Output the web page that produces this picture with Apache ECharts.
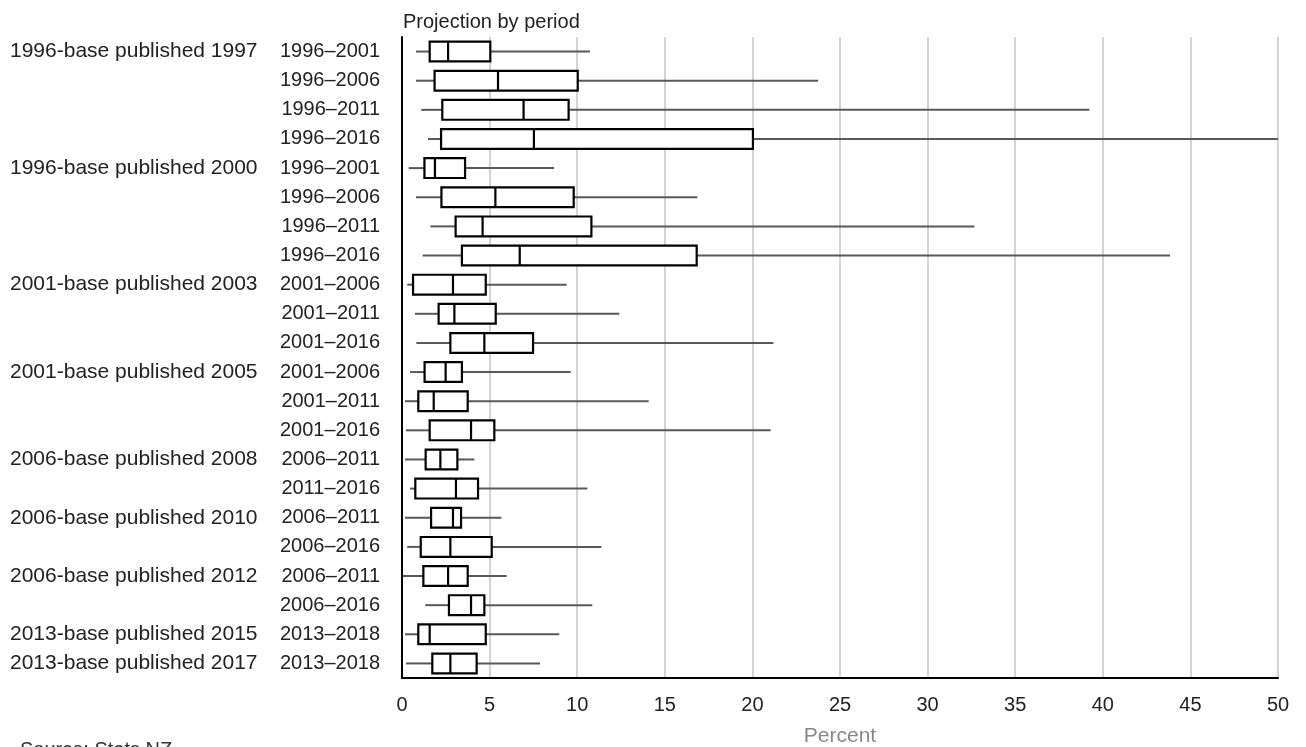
<!DOCTYPE html>
<html>
<head>
<meta charset="utf-8">
<script src="https://cdn.jsdelivr.net/npm/echarts@6/dist/echarts.min.js"></script>
<style>
html,body{margin:0;padding:0;background:#fff;}
#chart{width:1306px;height:747px;}
</style>
</head>
<body>
<div id="chart"></div>
<script>
const groupLabels = [
  '1996-base published 1997','','','',
  '1996-base published 2000','','','',
  '2001-base published 2003','','',
  '2001-base published 2005','','',
  '2006-base published 2008','',
  '2006-base published 2010','',
  '2006-base published 2012','',
  '2013-base published 2015',
  '2013-base published 2017'
];
const periods = [
  '1996–2001','1996–2006','1996–2011','1996–2016',
  '1996–2001','1996–2006','1996–2011','1996–2016',
  '2001–2006','2001–2011','2001–2016',
  '2001–2006','2001–2011','2001–2016',
  '2006–2011','2011–2016',
  '2006–2011','2006–2016',
  '2006–2011','2006–2016',
  '2013–2018',
  '2013–2018'
];
const whiskerLow = [0.80,0.80,1.10,1.48, 0.38,0.80,1.62,1.18, 0.30,0.74,0.82, 0.46,0.17,0.23, 0.17,0.46, 0.17,0.30, 0.04,1.33, 0.17, 0.23];
const quartile1  = [1.58,1.86,2.30,2.23, 1.28,2.25,3.06,3.42, 0.63,2.09,2.76, 1.29,0.93,1.58, 1.35,0.76, 1.66,1.07, 1.22,2.68, 0.93, 1.73];
const medians    = [2.63,5.48,6.94,7.53, 1.88,5.33,4.60,6.72, 2.91,2.99,4.70, 2.49,1.81,3.94, 2.19,3.08, 2.91,2.76, 2.63,3.94, 1.58, 2.76];
const quartile3  = [5.04,10.03,9.51,20.03, 3.60,9.80,10.81,16.82, 4.78,5.35,7.48, 3.42,3.75,5.27, 3.16,4.34, 3.37,5.12, 3.75,4.70, 4.78, 4.26];
const whiskerHigh= [10.73,23.75,39.23,50.0, 8.68,16.86,32.67,43.84, 9.40,12.40,21.20, 9.63,14.08,21.04, 4.13,10.58, 5.67,11.38, 5.97,10.86, 8.98, 7.88];
const xTicks = [0,5,10,15,20,25,30,35,40,45,50];

const FONT = "'Liberation Sans', Arial, sans-serif";
const data = periods.map((p,i)=>[i, whiskerLow[i], quartile1[i], medians[i], quartile3[i], whiskerHigh[i]]);

const chart = echarts.init(document.getElementById('chart'), null, {renderer:'canvas'});
chart.setOption({
  animation:false,
  backgroundColor:'#fff',
  title:{text:'Projection by period', left:398, top:7,
    textStyle:{fontFamily:FONT, fontSize:20, fontWeight:'normal', color:'#222'}},
  graphic:[{type:'text', left:20, top:740,
    style:{text:'Source: Stats NZ', fontFamily:FONT, fontSize:20, fill:'#333'}}],
  grid:{left:402, right:28, top:37, bottom:69, containLabel:false, outerBoundsMode:'none'},
  xAxis:{type:'value', min:xTicks[0], max:xTicks[xTicks.length-1], interval:5,
    axisLine:{show:true, onZero:false, lineStyle:{color:'#000', width:2}},
    axisTick:{show:false},
    axisLabel:{fontFamily:FONT, fontSize:20, color:'#222', margin:17},
    splitLine:{show:true, lineStyle:{color:'#d4d4d4', width:2}},
    name:'Percent', nameLocation:'middle', nameGap:48,
    nameTextStyle:{fontFamily:FONT, fontSize:21, color:'#888'}},
  yAxis:[
    {type:'category', inverse:true, data:periods, position:'left',
      axisLine:{show:true, lineStyle:{color:'#000', width:2}},
      axisTick:{show:false},
      axisLabel:{fontFamily:FONT, fontSize:20, color:'#222', margin:22,
        formatter:(v,i)=>periods[i]}},
    {type:'category', inverse:true, data:groupLabels.map((g,i)=>g||(' '.repeat(i+1))), position:'left',
      axisLine:{show:false}, axisTick:{show:false}, splitLine:{show:false},
      axisLabel:{fontFamily:FONT, fontSize:21, color:'#222', align:'left', margin:392,
        formatter:(v,i)=>groupLabels[i]}}
  ],
  series:[{
    type:'custom',
    xAxisIndex:0, yAxisIndex:0,
    encode:{y:0, x:[1,2,3,4,5]},
    data:data,
    renderItem:function(params, api){
      const idx = api.value(0);
      const lo = api.coord([api.value(1), idx]);
      const q1 = api.coord([api.value(2), idx]);
      const md = api.coord([api.value(3), idx]);
      const q3 = api.coord([api.value(4), idx]);
      const hi = api.coord([api.value(5), idx]);
      const h = api.size([0,1])[1]*0.68;
      const y = lo[1];
      const ws = {stroke:'#595959', lineWidth:2};
      return {type:'group', children:[
        {type:'line', shape:{x1:lo[0], y1:y, x2:q1[0], y2:y}, style:ws},
        {type:'line', shape:{x1:q3[0], y1:y, x2:hi[0], y2:y}, style:ws},
        {type:'rect', shape:{x:q1[0], y:y-h/2, width:q3[0]-q1[0], height:h},
          style:{fill:'#fff', stroke:'#000', lineWidth:2.2}},
        {type:'line', shape:{x1:md[0], y1:y-h/2, x2:md[0], y2:y+h/2},
          style:{stroke:'#000', lineWidth:2.2}}
      ]};
    }
  }]
});
</script>
</body>
</html>
